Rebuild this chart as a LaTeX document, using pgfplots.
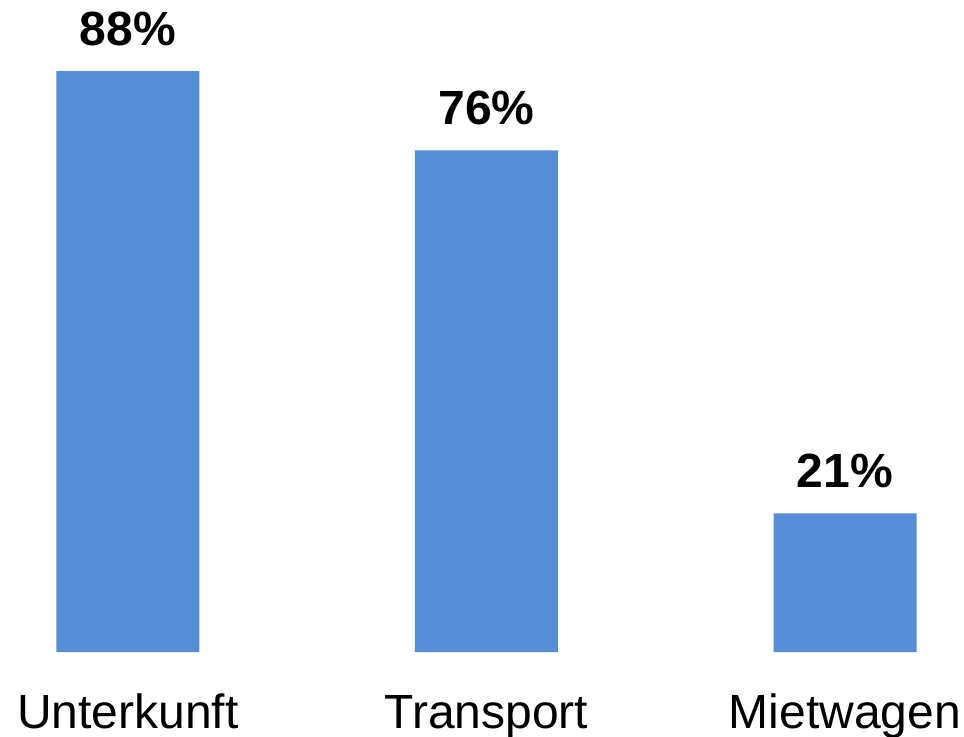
\documentclass[border=0pt]{standalone}
\usepackage{pgfplots}
\pgfplotsset{compat=1.18}
\usepackage{fontspec}
\setmainfont{Liberation Sans}
\definecolor{barblue}{RGB}{85,142,213}
\begin{document}
\begin{tikzpicture}
\useasboundingbox (0,0) rectangle (964bp,737bp);
\begin{axis}[
  at={(0,85bp)}, anchor=south west,
  scale only axis, width=964bp, height=652bp,
  xmin=-0.3564, xmax=2.3318,
  ymin=0, ymax=98.79,
  clip=false,
  axis line style={draw=none},
  tick style={draw=none},
  ytick=\empty,
  xtick=data,
  xticklabels={Unterkunft,Transport,Mietwagen},
  xticklabel style={font=\fontsize{48bp}{58bp}\selectfont, anchor=base, yshift=-72bp, inner sep=0pt},
  /pgf/number format/assume math mode=true,
  ybar, bar width=143bp,
  nodes near coords={\pgfmathprintnumber{\pgfplotspointmeta}\%},
  every node near coord/.append style={font=\bfseries\fontsize{48bp}{58bp}\selectfont, anchor=base, yshift=26bp, inner sep=0pt},
]
\addplot[fill=barblue, draw=none] coordinates {(0,88) (1,76) (2,21)};
\end{axis}
\end{tikzpicture}
\end{document}
